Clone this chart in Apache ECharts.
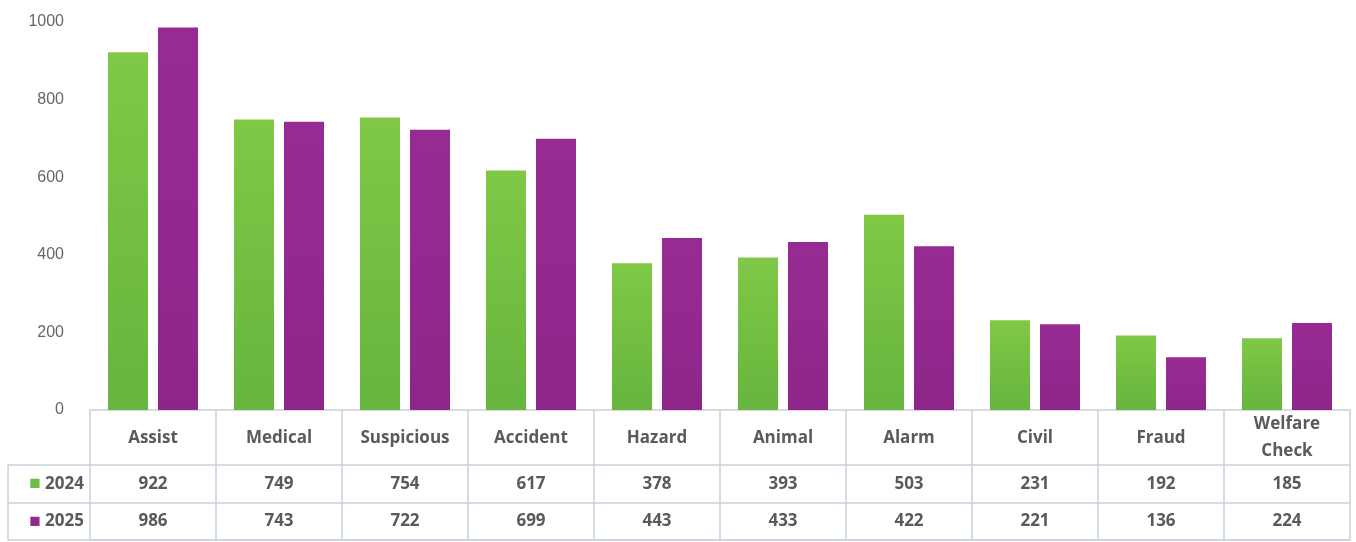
<!DOCTYPE html>
<html><head><meta charset="utf-8">
<script src="https://cdn.jsdelivr.net/npm/echarts@6/dist/echarts.min.js"></script>
<style>html,body{margin:0;padding:0;background:#fff}#c{width:1356px;height:542px}</style>
</head><body><div id="c"></div>
<script>
const categories = ['Assist','Medical','Suspicious','Accident','Hazard','Animal','Alarm','Civil','Fraud','Welfare\nCheck'];
const seriesNames = ['2024','2025'];
const values2024 = [922,749,754,617,378,393,503,231,192,185];
const values2025 = [986,743,722,699,443,433,422,221,136,224];
const yTicks = [0,200,400,600,800,1000];

const lineColor = '#c9d1dc';
const textColor = '#5a5a5a';
const green = new echarts.graphic.LinearGradient(0,0,0,1,[{offset:0,color:'#80c846'},{offset:1,color:'#66b53e'}]);
const purple = new echarts.graphic.LinearGradient(0,0,0,1,[{offset:0,color:'#982b93'},{offset:1,color:'#8e2689'}]);

const tableData = [];
values2024.forEach((v,i)=>tableData.push([i,0,v]));
values2025.forEach((v,i)=>tableData.push([i,1,v]));

const chart = echarts.init(document.getElementById('c'));
chart.setOption({
  animation:false,
  backgroundColor:'#fff',
  grid:[
    {left:90,right:6,top:22,height:388},
    {left:90,right:6,top:465,height:75}
  ],
  xAxis:[
    {type:'category',gridIndex:0,data:categories,
     axisLine:{show:true,lineStyle:{color:lineColor,width:1.5}},
     axisTick:{show:true,interval:0,length:55,lineStyle:{color:lineColor,width:1.5}},
     axisLabel:{interval:0,margin:28,verticalAlign:'middle',color:textColor,fontFamily:'Open Sans',fontWeight:'bold',fontSize:17,lineHeight:27}},
    {type:'category',gridIndex:1,data:categories,
     axisLine:{show:true,lineStyle:{color:lineColor,width:1.5}},
     axisTick:{show:false},axisLabel:{show:false},
     splitLine:{show:true,interval:0,lineStyle:{color:lineColor,width:1.5}}}
  ],
  yAxis:[
    {type:'value',gridIndex:0,min:0,max:1000,interval:200,
     axisLine:{show:false},axisTick:{show:false},splitLine:{show:false},
     axisLabel:{margin:26,color:'#666',fontFamily:'Liberation Sans',fontSize:16,
       formatter:v=>yTicks.includes(v)?String(v):''}},
    {type:'category',gridIndex:1,position:'left',data:seriesNames,inverse:true,
     axisLine:{show:false},
     axisTick:{show:true,interval:0,length:82,lineStyle:{color:lineColor,width:1.5}},
     splitLine:{show:true,interval:0,lineStyle:{color:lineColor,width:1.5}},
     axisLabel:{margin:6,align:'right',fontFamily:'Open Sans',fontWeight:'bold',fontSize:17,color:textColor,
       formatter:(v,i)=>'{s'+i+'|■} '+v,
       rich:{s0:{color:'#6cbd42',fontSize:19},s1:{color:'#92298d',fontSize:19}}}},
    {type:'category',gridIndex:1,position:'left',data:seriesNames,inverse:true,offset:82,
     axisLine:{show:true,lineStyle:{color:lineColor,width:1.5}},
     axisTick:{show:false},axisLabel:{show:false}}
  ],
  series:[
    {name:'2024',type:'bar',xAxisIndex:0,yAxisIndex:0,data:values2024,barWidth:40,barGap:'25%',itemStyle:{color:green}},
    {name:'2025',type:'bar',xAxisIndex:0,yAxisIndex:0,data:values2025,barWidth:40,barGap:'25%',itemStyle:{color:purple}},
    {type:'custom',xAxisIndex:1,yAxisIndex:1,data:tableData,encode:{x:0,y:1},
     renderItem:(params,api)=>{
       const p = api.coord([api.value(0),api.value(1)]);
       return {type:'text',x:p[0],y:p[1],style:{text:String(api.value(2)),textAlign:'center',textVerticalAlign:'middle',
         font:'bold 17px "Open Sans"',fill:textColor}};
     }}
  ]
});
</script></body></html>
